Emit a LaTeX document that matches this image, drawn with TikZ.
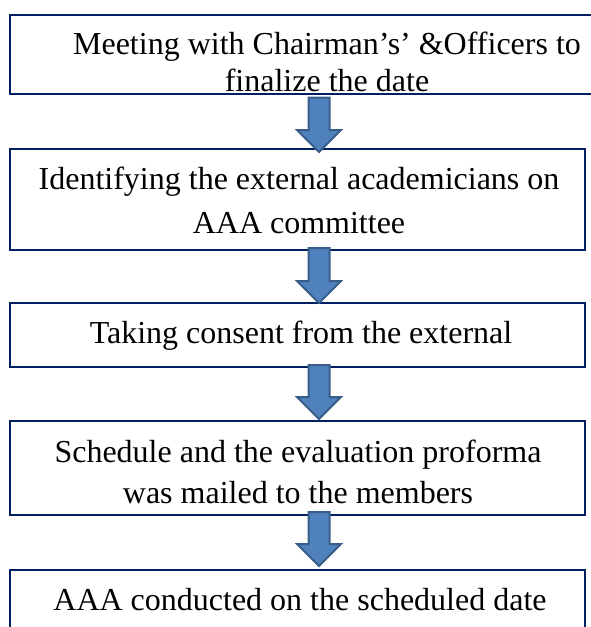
\documentclass[tikz,border=0pt]{standalone}
\usepackage{fontspec}
\setmainfont{Liberation Serif}
\usetikzlibrary{calc}
\definecolor{boxline}{RGB}{0,32,96}
\definecolor{arrowfill}{RGB}{79,129,189}
\definecolor{arrowline}{RGB}{56,93,138}
\tikzset{
  stepbox/.style={draw=boxline, line width=2.5pt, rectangle, inner sep=0pt, minimum width=575pt},
  steptext/.style={anchor=north, align=center, inner sep=0pt},
  flowarrow/.style={fill=arrowfill, draw=arrowline, line width=2pt, line join=miter}
}
\newcommand{\blockarrow}[2]{%
  \filldraw[flowarrow] let \p1=(#1), \p2=(#2) in
    (\x1-10.5pt,\y1) -- (\x1+10.5pt,\y1) -- (\x1+10.5pt,\y2+22pt) -- (\x1+22pt,\y2+22pt)
    -- (\x2,\y2) -- (\x1-22pt,\y2+22pt) -- (\x1-10.5pt,\y2+22pt) -- cycle;}
\begin{document}
\begin{tikzpicture}[x=1pt,y=-1pt]
\useasboundingbox (0,0) rectangle (591,627);
\clip (0,0) rectangle (591,627);
% boxes
\node[stepbox, minimum width=634pt, minimum height=79pt] (b1) at (327,54.5) {};
\node[stepbox, minimum height=101pt] (b2) at (297.5,199.5) {};
\node[stepbox, minimum height=64pt] (b3) at (297.5,335) {};
\node[stepbox, minimum height=94pt] (b4) at (297.5,468) {};
\node[stepbox, minimum height=64pt] (b5) at (297.5,602) {};
% texts
\node[steptext, font=\fontsize{32}{37}\selectfont] (t1) at (327,32)
  {Meeting with Chairman’s’ \&Officers to\\finalize the date};
\node[steptext, font=\fontsize{32}{44}\selectfont] (t2) at (299,167)
  {Identifying the external academicians on\\AAA committee};
\node[steptext, font=\fontsize{32}{40}\selectfont] (t3) at (301,321)
  {Taking consent from the external};
\node[steptext, font=\fontsize{32}{41}\selectfont] (t4) at (298,440)
  {Schedule and the evaluation proforma\\was mailed to the members};
\node[steptext, font=\fontsize{32}{40}\selectfont] (t5) at (300,588)
  {AAA conducted on the scheduled date};
% arrows
\coordinate (a1s) at (319,97.5);  \coordinate (a1e) at (319,152);
\coordinate (a2s) at (319,248);   \coordinate (a2e) at (319,303);
\coordinate (a3s) at (319,365);   \coordinate (a3e) at (319,419);
\coordinate (a4s) at (319,512);   \coordinate (a4e) at (319,566);
\blockarrow{a1s}{a1e}
\blockarrow{a2s}{a2e}
\blockarrow{a3s}{a3e}
\blockarrow{a4s}{a4e}
\end{tikzpicture}
\end{document}
